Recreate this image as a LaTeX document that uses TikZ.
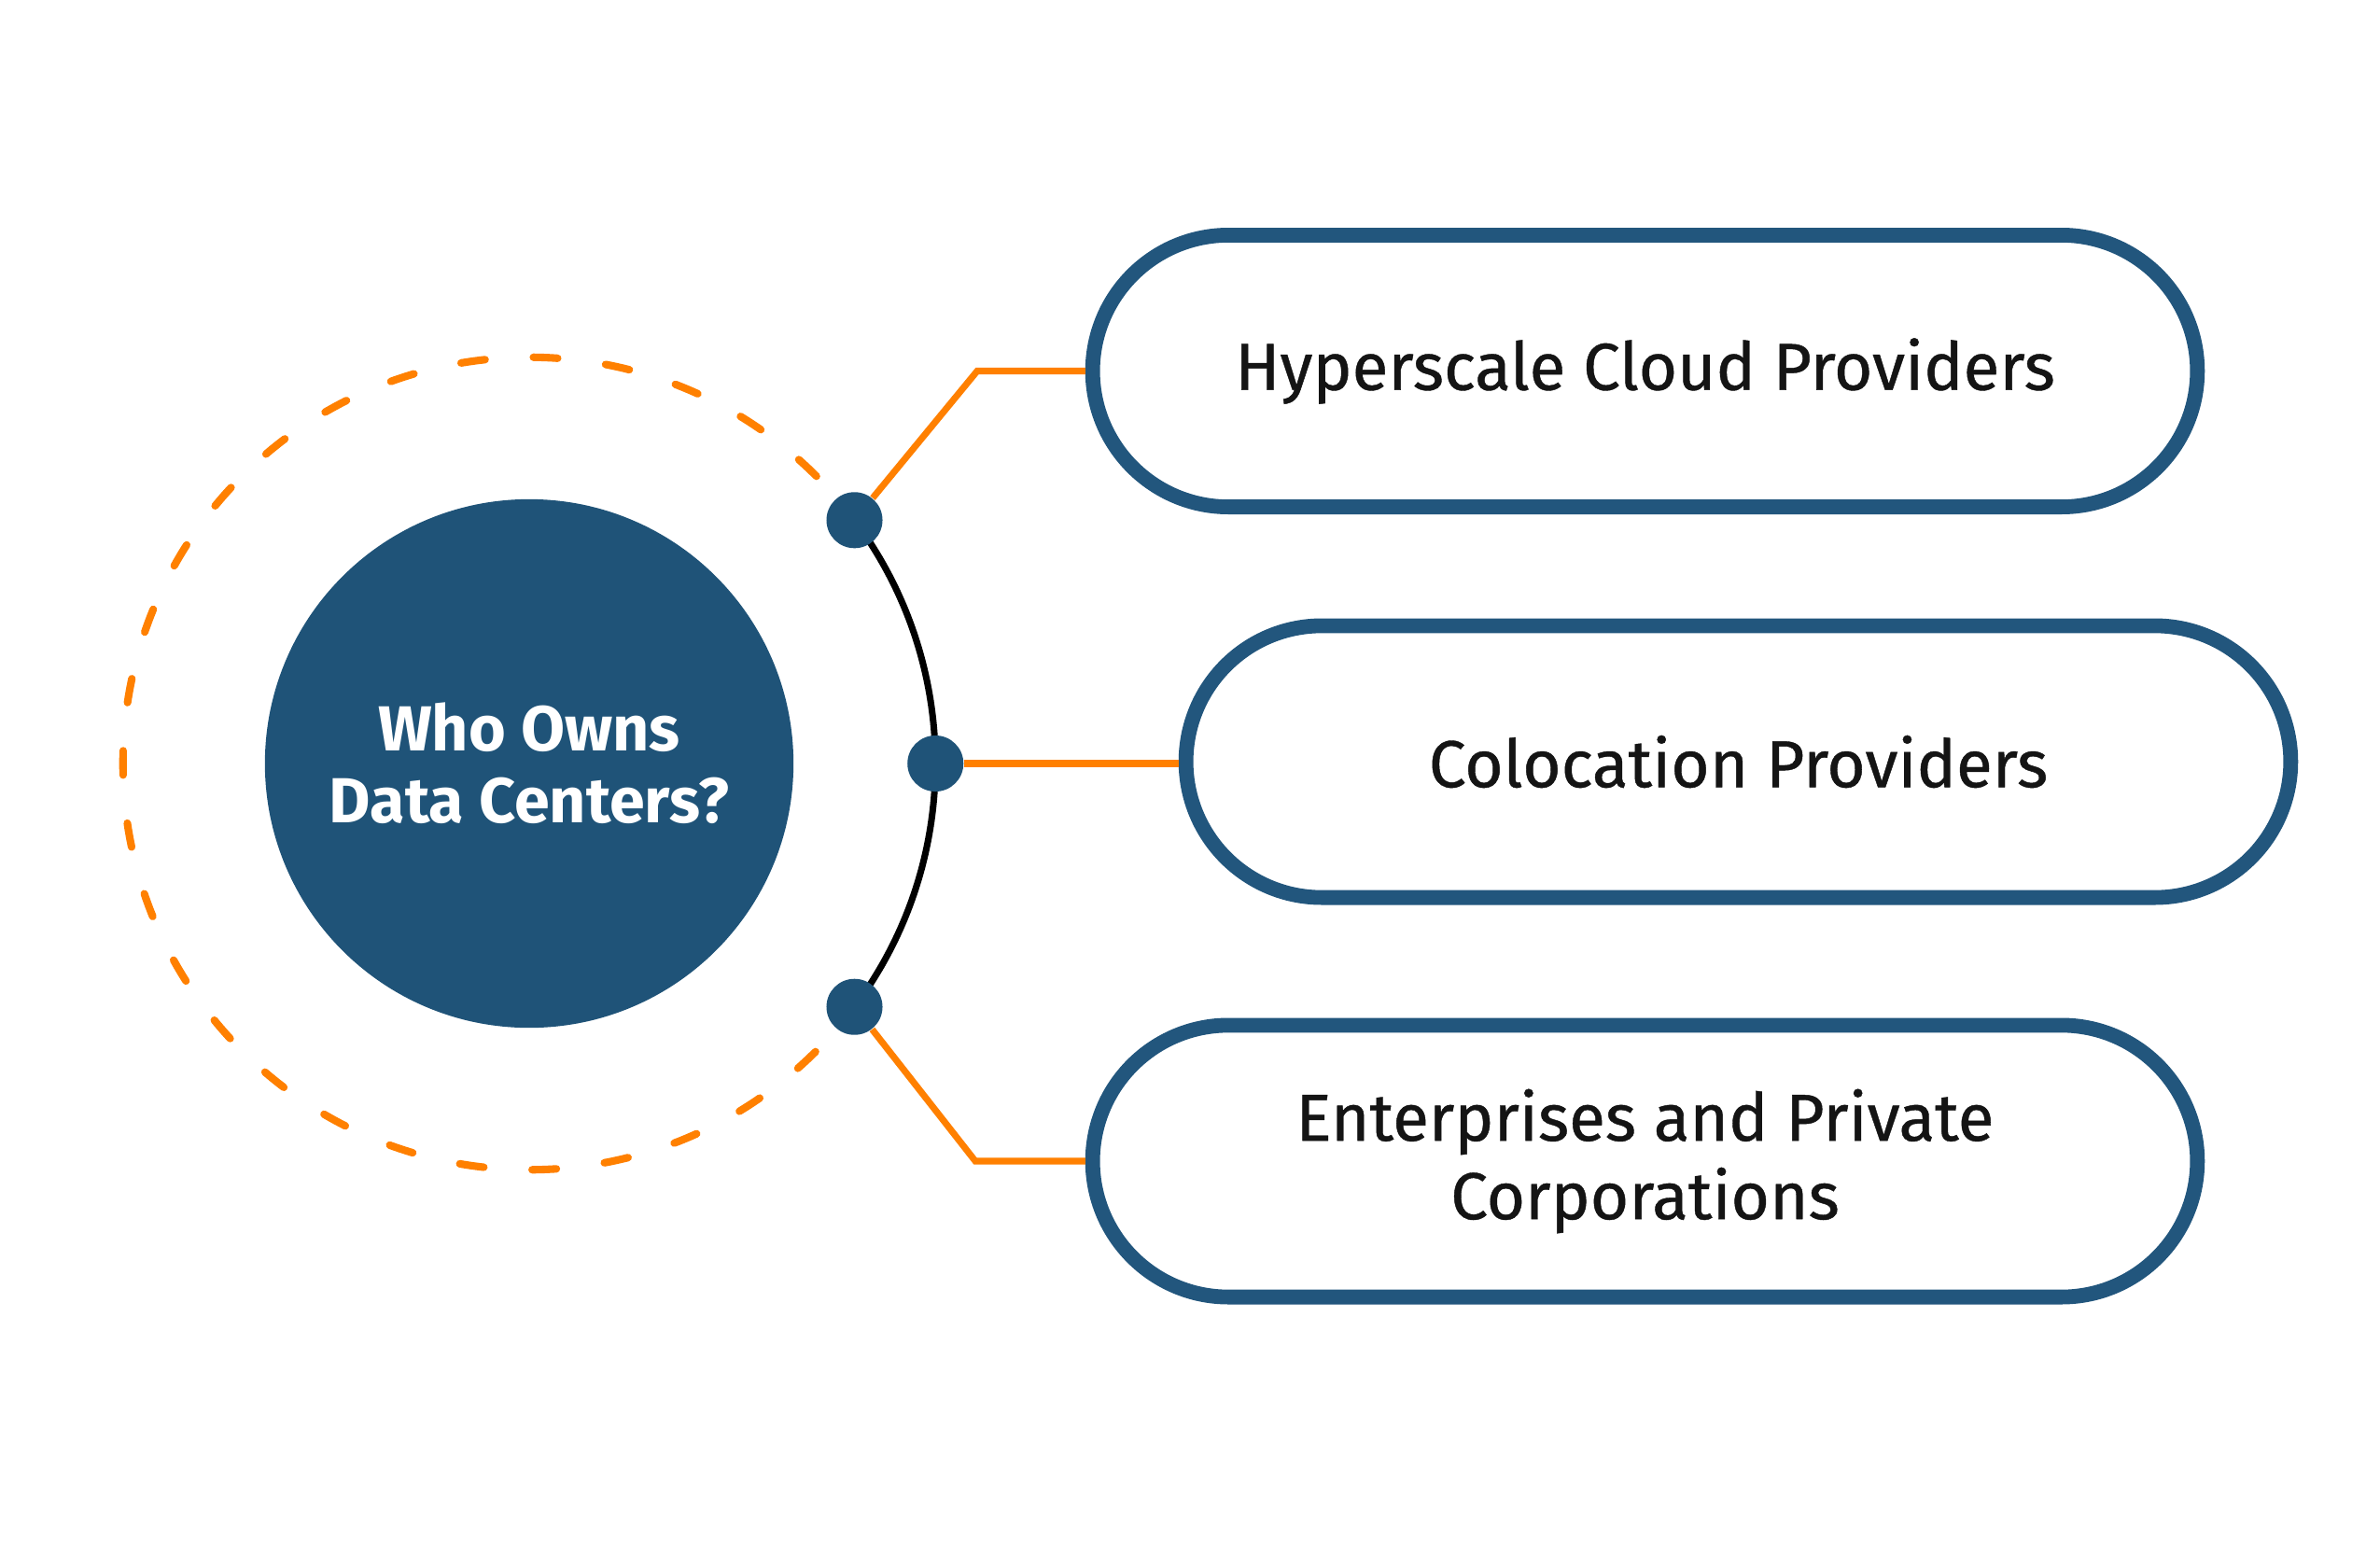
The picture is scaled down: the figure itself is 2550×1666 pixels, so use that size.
\documentclass[tikz,border=0pt]{standalone}
\usepackage{fontspec}
\setmainfont{Fira Sans}
\newfontfamily\boxfont{Fira Sans}[FakeBold=0.6]
\usetikzlibrary{shapes.misc,calc}
\definecolor{navy}{HTML}{1F5378}
\definecolor{boxblue}{HTML}{22567D}
\definecolor{orng}{HTML}{FF8000}
\tikzset{
  pill/.style={rounded rectangle, draw=boxblue, line width=4.5pt, fill=white,
    minimum width=11.83cm, minimum height=2.91cm, inner sep=0pt,
    align=center, text=black!92, font=\boxfont\fontsize{20.2}{24}\selectfont},
  hub/.style={circle, fill=navy, minimum size=5.66cm, inner sep=0pt,
    align=center, text=white, font=\bfseries\fontsize{19.4}{21.8}\selectfont},
  joint/.style={circle, fill=navy, minimum size=0.6cm, inner sep=0pt},
  link/.style={draw=orng, line width=2pt, line join=miter},
}
\begin{document}
\begin{tikzpicture}[x=0.01cm,y=0.01cm]
\useasboundingbox (0,0) rectangle (2550,-1666);
\fill[white] (0,0) rectangle (2550,-1666);
% hub
\node[hub] (hub) at (567,-818) {Who Owns\\Data Centers?};
% dashed ring
\draw[orng, line width=2.3pt, line cap=round, dash pattern=on 0.26cm off 0.518cm]
  ($(hub.center)+(45:4.35cm)$) arc[start angle=45, end angle=315, radius=4.35cm];
% joints
\coordinate (c1) at ($(hub.center)+(36.8:4.35cm)$);
\coordinate (c3) at ($(hub.center)+(-36.8:4.35cm)$);
\coordinate (c2) at ($(hub.center)+(0:4.35cm)$);
\draw[black, line width=2pt] (c1) arc[start angle=36.8, end angle=-36.8, radius=4.35cm];
\node[joint] (d1) at (c1) {};
\node[joint] (d2) at (c2) {};
\node[joint] (d3) at (c3) {};
% boxes
\node[pill] (b1) at (1762.5,-397.5) {Hyperscale Cloud Providers};
\node[pill] (b2) at (1862.5,-816) {Colocation Providers};
\node[pill, font=\boxfont\fontsize{20.2}{23.9}\selectfont] (b3) at (1762.5,-1244) {Enterprises and Private\\Corporations};
% connectors
\coordinate (e1) at (1047,-397.5);
\coordinate (e3) at (1045,-1244);
\draw[link] (d1) -- (e1) -- (b1.west);
\draw[link] (d2) -- (d2 -| b2.west);
\draw[link] (d3) -- (e3) -- (b3.west);
\end{tikzpicture}
\end{document}
